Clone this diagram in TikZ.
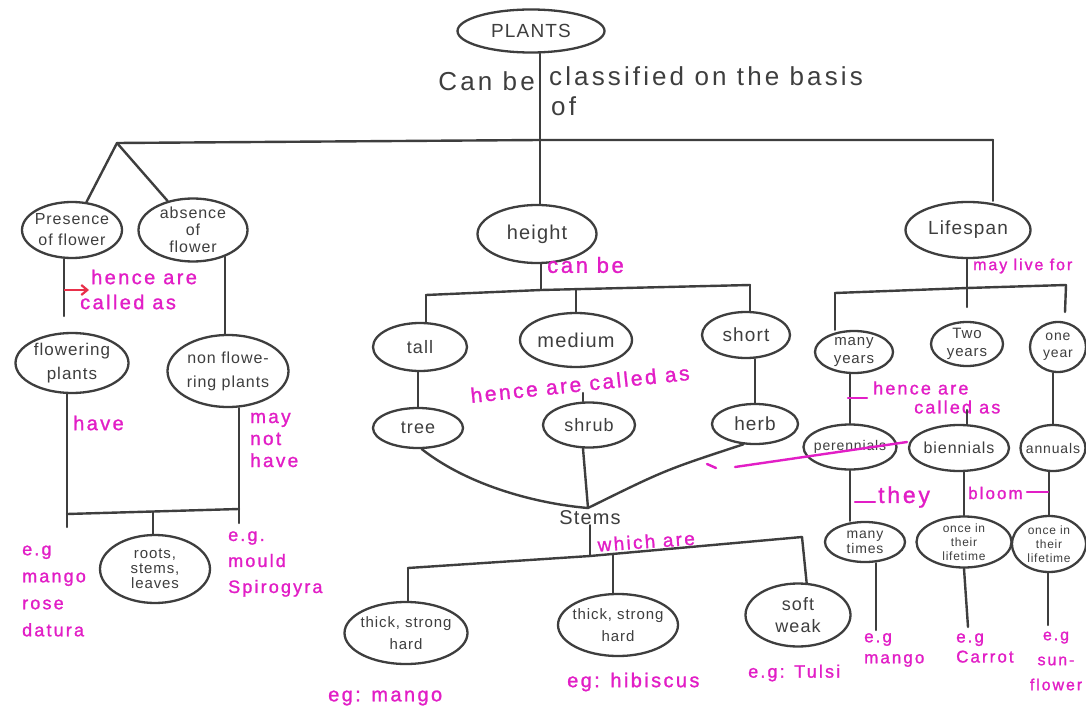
\documentclass[tikz,border=0pt]{standalone}
\usepackage{fontspec}
\setmainfont{Liberation Sans}
\newfontfamily\hand[LetterSpace=6]{Liberation Sans}
\newfontfamily\bighand[LetterSpace=12]{Liberation Sans}
\newfontfamily\penfont[LetterSpace=12,FakeBold=1.2]{Liberation Sans}
\usetikzlibrary{shapes.geometric,arrows.meta}
\definecolor{ink}{HTML}{3E3E3E}
\definecolor{pen}{HTML}{E21EC6}
\definecolor{redpen}{HTML}{E8304A}
\newcommand\ovalnode[7]{%
  \node[blob, minimum width=#3, minimum height=#4] (#1) at #2 {};
  \node[ntxt, fz={#5}{#6}] (#1-t) at (#1) {#7};}
\begin{document}
\begin{tikzpicture}[x=1pt,y=-1pt,
  blob/.style={ellipse, draw=ink, line width=2.3pt, inner sep=0pt},
  ntxt/.style={text=ink, inner sep=0pt, align=center},
  conn/.style={draw=ink, line width=2.4pt, line cap=round},
  fz/.style 2 args={font=\hand\fontsize{#1}{#2}\selectfont},
  bz/.style 2 args={font=\bighand\fontsize{#1}{#2}\selectfont},
  pz/.style 2 args={font=\penfont\fontsize{#1}{#2}\selectfont},
  ptxt/.style={text=pen, inner sep=0pt, align=left},
  pline/.style={draw=pen, line width=2.4pt, line cap=round}]
\fill[white] (0,0) rectangle (1086,719);
\useasboundingbox (0,0) rectangle (1086,719);

% ---------- nodes ----------
\ovalnode{plants}{(531,31)}{147}{43}{19}{19}{PLANTS}
\node[ntxt, bz={26}{26}, anchor=east] (canbe) at (535,81) {Can be};
\node[ntxt, bz={26}{26}, anchor=west] (classif) at (549,76) {classified on the basis};
\node[ntxt, bz={26}{26}, anchor=west] (of) at (551,106) {of};

\ovalnode{pres}{(72,230)}{100}{56}{16}{21}{Presence\\of flower}
\ovalnode{abs}{(193,230)}{109}{63}{16}{17}{absence\\of\\flower}
\ovalnode{flow}{(72,363)}{113}{60}{17}{24}{flowering\\plants}
\ovalnode{nonfl}{(228,371)}{121}{72}{16}{24}{non flowe-\\ring plants}
\ovalnode{roots}{(155,569)}{110}{68}{15}{15}{roots,\\stems,\\leaves}

\ovalnode{height}{(537,234)}{119}{58}{20}{20}{height}
\ovalnode{tall}{(420,347)}{94}{48}{18}{18}{tall}
\ovalnode{medium}{(576,340)}{112}{54}{20}{20}{medium}
\ovalnode{short}{(746,335)}{88}{46}{19}{19}{short}
\ovalnode{tree}{(418,428)}{90}{40}{18}{18}{tree}
\ovalnode{shrub}{(589,425)}{92}{45}{18}{18}{shrub}
\ovalnode{herb}{(755,424)}{86}{40}{19}{19}{herb}
\node[ntxt, fz={20}{20}] (stems) at (590,518) {Stems};
\ovalnode{tsh1}{(406,633)}{123}{62}{15}{22}{thick, strong\\hard}
\ovalnode{tsh2}{(618,625)}{120}{62}{15}{22}{thick, strong\\hard}
\ovalnode{soft}{(798,615)}{105}{63}{18}{22}{soft\\weak}

\ovalnode{life}{(968,230)}{125}{56}{19}{19}{Lifespan}
\ovalnode{many}{(854,352)}{78}{42}{15}{18}{many\\years}
\ovalnode{two}{(967,344)}{72}{44}{15}{18}{Two\\years}
\ovalnode{one}{(1058,347)}{56}{50}{14}{17}{one\\year}
\ovalnode{peren}{(850,447)}{93}{45}{14}{14}{perennials}
\ovalnode{bienn}{(959,448)}{100}{46}{16}{16}{biennials}
\ovalnode{annu}{(1053,448)}{65}{46}{14}{14}{annuals}
\ovalnode{mtimes}{(865,542)}{80}{40}{14}{15}{many\\times}
\ovalnode{once1}{(964,542)}{95}{51}{12}{14}{once in\\their\\lifetime}
\ovalnode{once2}{(1049,544)}{74}{56}{12}{14}{once in\\their\\lifetime}

% ---------- magenta labels ----------
\node[ptxt, pz={20}{20}, anchor=west] (p1) at (91,277) {hence are};
\node[ptxt, pz={20}{20}, anchor=west] (p2) at (80,302) {called as};
\node[ptxt, pz={20}{20}, anchor=west] (p3) at (73,423) {have};
\node[ptxt, pz={19}{22}, anchor=west] (p4) at (250,440) {may\\not\\have};
\node[ptxt, pz={18}{27}, anchor=west] (p5) at (22,591) {e.g\\mango\\rose\\datura};
\node[ptxt, pz={18}{26}, anchor=west] (p6) at (228,564) {e.g.\\mould\\Spirogyra};
\node[ptxt, pz={22}{22}, anchor=west] (p7) at (547,265) {can be};
\node[ptxt, pz={21}{21}, rotate=6] (p8) at (580,384) {hence are called as};
\node[ptxt, pz={19}{19}, anchor=south west, rotate=4] (p9) at (598,552) {which are};
\node[ptxt, pz={20}{20}, anchor=west] (p10) at (328,698) {eg: mango};
\node[ptxt, pz={20}{20}, anchor=west] (p11) at (567,682) {eg: hibiscus};
\node[ptxt, pz={18}{18}, anchor=west] (p12) at (748,673) {e.g: Tulsi};
\node[ptxt, pz={16}{16}, anchor=west] (p13) at (973,266) {may live for};
\node[ptxt, pz={18}{18}, anchor=west] (p14) at (873,388) {hence are};
\node[ptxt, pz={18}{18}, anchor=west] (p15) at (914,407) {called as};
\node[ptxt, pz={23}{23}, anchor=west] (p16) at (878,497) {they};
\node[ptxt, pz={17}{17}, anchor=west] (p17) at (968,493) {bloom};
\node[ptxt, pz={17}{21}, anchor=west] (p18) at (864,650) {e.g\\mango};
\node[ptxt, pz={17}{20}, anchor=west] (p19) at (956,648) {e.g\\Carrot};
\node[ptxt, pz={16}{25}, align=center] (p20) at (1056,661) {e.g\\sun-\\flower};

% ---------- coordinates ----------
\coordinate (tj) at (540,140);
\coordinate (tl) at (117,143);
\coordinate (tr) at (993,140);
\coordinate (pe) at (64,316);
\coordinate (fb) at (67,514);
\coordinate (fbe) at (67,527);
\coordinate (nb) at (239,509);
\coordinate (nbe) at (239,523);
\coordinate (rb) at (153,512);
\coordinate (hj) at (541,290);
\coordinate (hl) at (426,295);
\coordinate (hr) at (750,285);
\coordinate (shtop) at (583,393);
\coordinate (sj) at (588,508);
\coordinate (sbl) at (408,568);
\coordinate (sbm) at (590,556);
\coordinate (sbr) at (802,537);
\coordinate (sbmid) at (613,554);
\coordinate (lj) at (967,288);
\coordinate (ll) at (835,293);
\coordinate (lr) at (1066,285);
\coordinate (lje) at (967,307);
\coordinate (lre) at (1065,312);
\coordinate (bt) at (967,410);
\coordinate (ex1) at (876,630);
\coordinate (ex2) at (968,627);
\coordinate (ex3) at (1048,625);
\coordinate (ra) at (64,290);
\coordinate (rae) at (89,290);

% ---------- connectors ----------
\draw[conn] (plants.south -| tj) -- (tj);
\draw[conn] (tl) -- (tj) -- (tr);
\draw[conn] (tl) -- (pres);
\draw[conn] (tl) -- (abs);
\draw[conn] (tj) -- (height.north -| tj);
\draw[conn] (tr) -- (life.north -| tr);

\draw[conn] (pres.south -| pe) -- (pe);
\draw[conn] (abs.-40) -- (abs.-40 |- nonfl.north);
\draw[conn] (flow.south -| fb) -- (fbe);
\draw[conn] (nonfl.south -| nb) -- (nbe);
\draw[conn] (fb) -- (nb);
\draw[conn] (rb) -- (roots.north -| rb);

\draw[conn] (height.south -| hj) -- (hj);
\draw[conn] (hl) -- (hj) -- (hr);
\draw[conn] (hl) -- (tall.north -| hl);
\draw[conn] (medium.north |- hj) -- (medium.north);
\draw[conn] (hr) -- (short.north -| hr);
\draw[conn] (tall.south -| tree.north) -- (tree.north);
\draw[conn] (shtop) -- (shtop |- shrub.north);
\draw[conn] (short.south -| herb.north) -- (herb.north);
\draw[conn] (tree.-80) .. controls (470,487) and (540,504) .. (sj);
\draw[conn] (shrub.south -| shtop) -- (sj);
\draw[conn] (herb.-120) .. controls (665,470) .. (sj);

\draw[conn] (stems.south -| sbm) -- (sbm);
\draw[conn] (sbl) -- (sbm) -- (sbr);
\draw[conn] (sbl) -- (sbl |- tsh1.north);
\draw[conn] (sbmid) -- (sbmid |- tsh2.north);
\draw[conn] (sbr) -- (soft.75);

\draw[conn] (life.south -| lj) -- (lj);
\draw[conn] (ll) -- (lj) -- (lr);
\draw[conn] (lj) -- (lje);
\draw[conn] (lr) -- (lre);
\draw[conn] (ll) -- (ll |- many.north);
\draw[conn] (many.south -| peren.north) -- (peren.north);
\draw[conn] (bt) -- (bt |- bienn.north);
\draw[conn] (one.south -| annu.north) -- (annu.north);
\draw[conn] (peren.south) -- (peren.south |- mtimes.north);
\draw[conn] (bienn.south -| once1.north) -- (once1.north);
\draw[conn] (annu.south -| once2.north) -- (once2.north);
\draw[conn] (mtimes.south -| ex1) -- (ex1);
\draw[conn] (once1.south) -- (ex2);
\draw[conn] (once2.south -| ex3) -- (ex3);

% ---------- pen strokes ----------
\draw[draw=redpen, line width=2.2pt, -{Straight Barb[length=6pt,width=10pt]}] (ra) -- (rae);
\draw[pline] (848,398) -- (867,398);
\draw[pline] (855,502) -- (875,502);
\draw[pline] (1027,492) -- (1048,492);
\draw[pline] (707,464) -- (716,468);
\draw[pline] (735,467) -- (907,442);
\end{tikzpicture}
\end{document}
